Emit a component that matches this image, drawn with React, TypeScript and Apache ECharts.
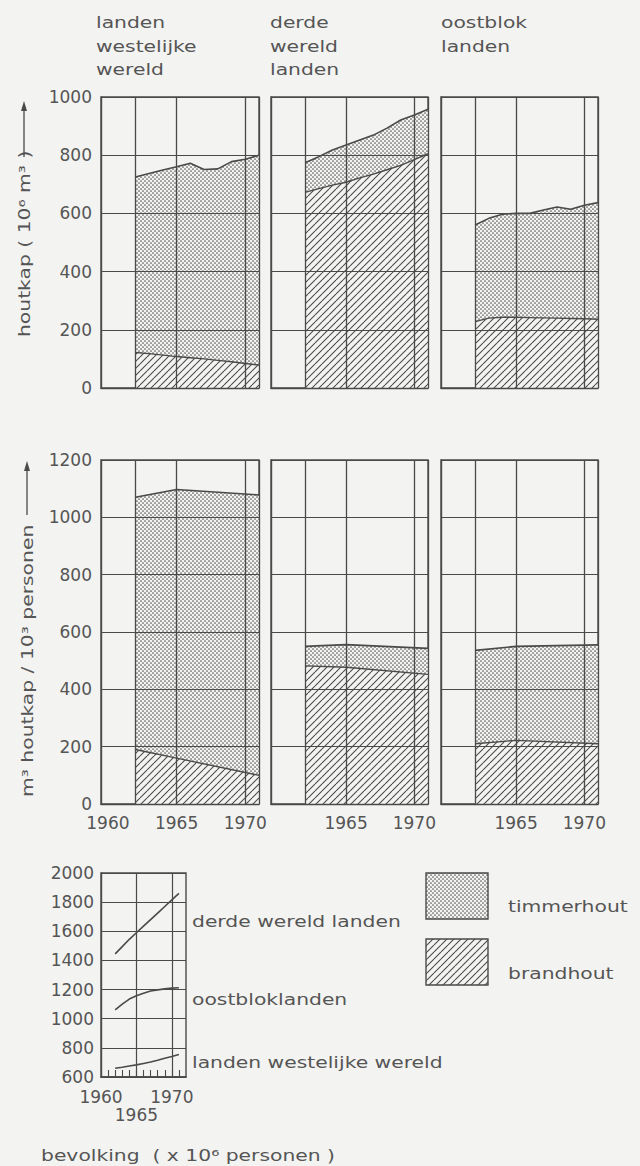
import { useEffect, useRef } from 'react';
import * as echarts from 'echarts';

// ---- data ----
const years = [1962, 1963, 1964, 1965, 1966, 1967, 1968, 1969, 1970, 1971];
// houtkap (10^6 m3): total (timmerhout + brandhout) and brandhout
const westTotal = [725, 737, 749, 760, 772, 751, 753, 778, 786, 800];
const westFire = [122, 118, 113, 108, 104, 100, 95, 90, 84, 79];
const derdeTotal = [774, 795, 818, 835, 852, 869, 893, 921, 938, 958];
const derdeFire = [672, 685, 697, 707, 722, 735, 750, 765, 785, 805];
const oostTotal = [560, 583, 597, 600, 600, 612, 622, 614, 628, 637];
const oostFire = [228, 240, 243, 243, 242, 241, 240, 239, 238, 236];

// m3 houtkap / 10^3 personen
const capYears = [1962, 1965, 1971];
const westCapTotal = [1070, 1097, 1078];
const westCapFire = [190, 160, 100];
const derdeCapTotal = [550, 556, 543];
const derdeCapFire = [482, 477, 452];
const oostCapTotal = [536, 550, 555];
const oostCapFire = [210, 222, 210];

// bevolking (x 10^6 personen)
const popYears = [1962, 1963, 1964, 1965, 1966, 1967, 1968, 1969, 1970, 1971];
const derdePop = [1445, 1495, 1545, 1590, 1635, 1680, 1725, 1770, 1815, 1860];
const oostPop = [1060, 1100, 1135, 1157, 1175, 1190, 1198, 1205, 1210, 1213];
const westPop = [660, 667, 675, 683, 693, 703, 715, 728, 741, 755];

const panelTitles = ['landen\nwestelijke\nwereld', 'derde\nwereld\nlanden', 'oostblok\nlanden'];
const popLabels = ['derde wereld landen', 'oostbloklanden', 'landen westelijke wereld'];
const legendLabels = ['timmerhout', 'brandhout'];
const gridYears = [1962, 1965, 1970, 1971];
const midXLabelsFirst = [1960, 1965, 1970];
const midXLabels = [1965, 1970];
const popXLabelsRow1 = [1960, 1970];
const popXLabelsRow2 = [1965];
const popTicks = [1961, 1962, 1963, 1964, 1965, 1966, 1967, 1968, 1969, 1970, 1971];

const BG = '#f3f3f1';
const INK = '#4a4a4a';
const TXT = '#555555';
const FONT = '"DejaVu Sans"';
const SX = 1.27;

const zip = (xs: number[], ys: number[]) => xs.map((x, i) => [x, ys[i]]);
const plain = (v: number) => String(v);

function makePattern(kind: 'dots' | 'hatch') {
  const c = document.createElement('canvas');
  const g = c.getContext('2d') as CanvasRenderingContext2D;
  if (kind === 'dots') {
    c.width = 4; c.height = 4;
    g.fillStyle = BG; g.fillRect(0, 0, 4, 4);
    g.fillStyle = '#5a5a5a';
    [[1, 1], [3, 3]].forEach(([x, y]) => { g.beginPath(); g.arc(x, y, 0.85, 0, Math.PI * 2); g.fill(); });
  } else {
    c.width = 7; c.height = 7;
    g.fillStyle = BG; g.fillRect(0, 0, 7, 7);
    g.strokeStyle = INK; g.lineWidth = 1.1;
    [-7, 0, 7].forEach((k) => { g.beginPath(); g.moveTo(k, 7); g.lineTo(k + 7, 0); g.stroke(); });
  }
  return { image: c, repeat: 'repeat', imageWidth: c.width, imageHeight: c.height } as any;
}

export default function App() {
  const ref = useRef<HTMLDivElement>(null);
  useEffect(() => {
    document.body.style.margin = '0';
    document.body.style.background = BG;
    const chart = echarts.init(ref.current as HTMLDivElement, null, { renderer: 'svg' });
    const dots = makePattern('dots');
    const hatch = makePattern('hatch');

    const lefts = [101, 271, 441];
    const widths = [158, 157, 157];
    const grids: any[] = [];
    const xAxes: any[] = [];
    const yAxes: any[] = [];
    const series: any[] = [];

    const panels = [
      { top: 97, height: 291, max: 1000, xs: years, totals: [westTotal, derdeTotal, oostTotal], fires: [westFire, derdeFire, oostFire], labels: false },
      { top: 460, height: 344, max: 1200, xs: capYears, totals: [westCapTotal, derdeCapTotal, oostCapTotal], fires: [westCapFire, derdeCapFire, oostCapFire], labels: true },
    ];

    panels.forEach((row) => {
      for (let p = 0; p < 3; p++) {
        const gi = grids.length;
        grids.push({ left: lefts[p], top: row.top, width: widths[p], height: row.height, show: true, borderColor: INK, borderWidth: 1.4, backgroundColor: 'transparent' });
        xAxes.push({
          type: 'value', gridIndex: gi, min: 1959.5, max: 1971, z: 10,
          axisLine: { show: true, lineStyle: { color: INK, width: 1.4 } },
          axisTick: { show: false }, splitLine: { show: false },
          axisLabel: {
            show: row.labels, customValues: p === 0 ? midXLabelsFirst : midXLabels,
            fontSize: 17, fontFamily: FONT, color: TXT, margin: 10, formatter: plain,
          },
        });
        yAxes.push({
          type: 'value', gridIndex: gi, min: 0, max: row.max, interval: 200, z: 10,
          axisLine: { show: true, lineStyle: { color: INK, width: 1.4 } },
          axisTick: { show: false },
          splitLine: { show: true, lineStyle: { color: INK, width: 1.2 } },
          axisLabel: { show: p === 0, fontSize: 17, fontFamily: FONT, color: TXT, margin: 9, formatter: plain },
        });
        series.push({
          type: 'line', xAxisIndex: gi, yAxisIndex: gi, z: 2, symbol: 'none',
          data: zip(row.xs, row.totals[p]), lineStyle: { width: 0 },
          areaStyle: { color: dots, opacity: 1 },
        });
        series.push({
          type: 'line', xAxisIndex: gi, yAxisIndex: gi, z: 3, symbol: 'none',
          data: zip(row.xs, row.fires[p]), lineStyle: { color: INK, width: 1.4 },
          areaStyle: { color: hatch, opacity: 1 },
        });
        series.push({
          type: 'line', xAxisIndex: gi, yAxisIndex: gi, z: 4, symbol: 'none',
          data: zip(row.xs, row.totals[p]), lineStyle: { color: INK, width: 1.6 },
          markLine: {
            silent: true, symbol: ['none', 'none'], label: { show: false },
            lineStyle: { color: INK, width: 1.3, type: 'solid' },
            data: gridYears.map((y) => ({ xAxis: y })),
          },
        });
      }
    });

    // population panel
    const pg = grids.length;
    grids.push({ left: 101, top: 873, width: 85, height: 204, show: true, borderColor: INK, borderWidth: 1.4, backgroundColor: 'transparent' });
    xAxes.push({
      type: 'value', gridIndex: pg, min: 1960, max: 1972, z: 10,
      axisLine: { show: true, lineStyle: { color: INK, width: 1.6 } },
      axisTick: { show: true, inside: true, length: 7, customValues: popTicks, lineStyle: { color: INK, width: 1.1 } },
      splitLine: { show: false },
      axisLabel: { customValues: popXLabelsRow1, fontSize: 17, fontFamily: FONT, color: TXT, margin: 11, formatter: plain },
    });
    const pg2 = xAxes.length;
    xAxes.push({
      type: 'value', gridIndex: pg, min: 1960, max: 1972, position: 'bottom',
      axisLine: { show: false }, axisTick: { show: false }, splitLine: { show: false },
      axisLabel: { customValues: popXLabelsRow2, fontSize: 17, fontFamily: FONT, color: TXT, margin: 29, formatter: plain },
    });
    yAxes.push({
      type: 'value', gridIndex: pg, min: 600, max: 2000, interval: 200,
      axisLine: { show: true, lineStyle: { color: INK, width: 1.4 } },
      axisTick: { show: false },
      splitLine: { show: true, lineStyle: { color: INK, width: 1.2 } },
      axisLabel: { fontSize: 17, fontFamily: FONT, color: TXT, margin: 7, formatter: plain },
    });
    [derdePop, oostPop, westPop].forEach((vals, i) => {
      series.push({
        type: 'line', xAxisIndex: pg, yAxisIndex: pg, symbol: 'none',
        data: zip(popYears, vals), lineStyle: { color: INK, width: 1.6 },
        markLine: i === 0 ? {
          silent: true, symbol: ['none', 'none'], label: { show: false },
          lineStyle: { color: INK, width: 1.2, type: 'solid' },
          data: [{ xAxis: 1965 }, { xAxis: 1970 }],
        } : undefined,
      });
    });
    // keep the secondary axis in use (invisible helper series)
    series.push({ type: 'line', xAxisIndex: pg2, yAxisIndex: pg, data: [], symbol: 'none' });

    const txt = (text: string, x: number, y: number, extra: any = {}) => ({
      type: 'text', x, y, scaleX: SX, ...extra,
      style: { text, fill: TXT, fontSize: 16, fontFamily: FONT, align: 'left', verticalAlign: 'middle', ...(extra.style || {}) },
    });

    const titleX = [96, 270, 441];
    const graphic: any[] = [];
    panelTitles.forEach((t, i) => {
      graphic.push(txt(t, titleX[i], 11, { style: { verticalAlign: 'top', lineHeight: 23.5 } }));
    });
    // y-axis titles (rotated) with arrows
    graphic.push(txt('houtkap ( 10⁶ m³ )', 24, 337, { rotation: Math.PI / 2 }));
    graphic.push({ type: 'line', shape: { x1: 24, y1: 157, x2: 24, y2: 108 }, style: { stroke: INK, lineWidth: 1.3 } });
    graphic.push({ type: 'polygon', shape: { points: [[24, 101], [21, 111], [27, 111]] }, style: { fill: INK } });
    graphic.push(txt('m³ houtkap / 10³ personen', 27, 797, { rotation: Math.PI / 2 }));
    graphic.push({ type: 'line', shape: { x1: 27, y1: 515, x2: 27, y2: 468 }, style: { stroke: INK, lineWidth: 1.3 } });
    graphic.push({ type: 'polygon', shape: { points: [[27, 461], [24, 471], [30, 471]] }, style: { fill: INK } });
    // population labels
    const popLabelY = [921, 999, 1062];
    popLabels.forEach((t, i) => graphic.push(txt(t, 192, popLabelY[i])));
    graphic.push(txt('bevolking  ( x 10⁶ personen )', 41, 1155));
    // legend
    graphic.push({ type: 'rect', shape: { x: 426, y: 873, width: 62, height: 46 }, style: { fill: dots, stroke: INK, lineWidth: 1.4 } });
    graphic.push({ type: 'rect', shape: { x: 426, y: 939, width: 62, height: 46 }, style: { fill: hatch, stroke: INK, lineWidth: 1.4 } });
    graphic.push(txt(legendLabels[0], 508, 906));
    graphic.push(txt(legendLabels[1], 508, 973));

    chart.setOption({
      animation: false,
      backgroundColor: BG,
      grid: grids,
      xAxis: xAxes,
      yAxis: yAxes,
      series,
      graphic,
    });
    return () => chart.dispose();
  }, []);
  return <div ref={ref} style={{ width: 640, height: 1166, background: BG }} />;
}
